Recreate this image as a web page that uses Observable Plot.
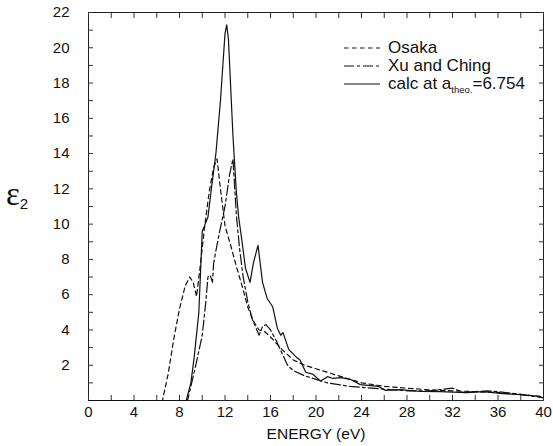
<!DOCTYPE html>
<html><head><meta charset="utf-8">
<script src="https://cdn.jsdelivr.net/npm/d3@7"></script>
<script src="https://cdn.jsdelivr.net/npm/@observablehq/plot@0.6"></script>
<style>
body{margin:0;background:#fff;font-family:"Liberation Sans",Arial,sans-serif;}
#wrap{position:relative;width:553px;height:446px;}
#ylab{position:absolute;left:6px;top:178px;line-height:32px;font-family:"Liberation Serif","DejaVu Serif",serif;font-size:33px;color:#111;white-space:nowrap;}
#ylab sub{font-family:"Liberation Sans",sans-serif;font-size:15px;vertical-align:-4px;margin-left:0px;}
#legend{position:absolute;left:344px;top:39px;font-size:17px;color:#111;}
#legend div{display:flex;align-items:center;height:18px;}
#legend svg{margin-right:8px;}
#legend sub{font-size:9.5px;vertical-align:-4px;}
</style></head>
<body><div id="wrap"><div id="ylab">ε<sub>2</sub></div><div id="legend"></div></div>
<script>
// Osaka (short dashes)
const osakaE = [0,6.5,7.0,7.5,8.0,8.5,8.9,9.2,9.5,9.8,10.2,10.6,11.0,11.3,11.6,12.0,12.5,13.0,13.5,14.0,14.5,15.0,15.5,16.0,17,18,19,20,21,22,23,24,26,28,30,32,34,36,38,40];
const osakaV = [0,0,1.5,3.5,5.2,6.5,7.0,6.7,5.9,7.5,9.8,11.8,13.2,13.7,12.0,9.9,8.8,7.6,6.5,5.3,4.5,4.0,3.9,3.6,2.9,2.3,2.0,1.8,1.6,1.4,1.2,1.0,0.8,0.7,0.6,0.55,0.5,0.45,0.35,0.2];
// Xu and Ching (dash-dot)
const xuE = [0,8.7,9.0,9.5,10.0,10.3,10.5,10.7,10.9,11.0,11.5,12.0,12.4,12.7,13.0,13.3,13.6,14.0,14.4,14.8,15.0,15.3,15.6,16.0,16.5,17,17.5,18,19,20,21,22,23,24,26,28,30,32,33,34,35,36,38,40];
const xuV = [0,0,0.8,2.2,3.7,5.5,7.0,7.1,6.7,7.8,9.5,11.0,12.8,13.7,10.5,8.5,7.0,5.6,4.6,4.0,3.7,4.2,4.3,4.0,3.4,2.7,2.0,1.7,1.4,1.2,1.0,0.9,0.8,0.75,0.65,0.55,0.55,0.7,0.45,0.5,0.55,0.5,0.35,0.15];
// calc at a_theo.=6.754 (solid)
const calcE = [0,8.6,9.0,9.3,9.7,10.0,10.2,10.5,10.8,11.2,11.6,12.0,12.15,12.3,12.7,13.0,13.2,13.5,13.8,14.2,14.5,14.9,15.3,15.7,16.2,16.6,16.9,17.1,17.6,18.2,18.6,19.1,19.7,20.4,21.0,21.5,22.2,23.0,23.9,25.5,26.1,27.4,29.2,30.9,33.3,34.7,36.2,37.7,39.7];
const calcV = [0,0,1.0,2.5,5.0,9.6,9.9,10.4,12.0,14.0,17.0,20.8,21.3,20.5,15.0,11.8,10.4,9.0,7.5,6.7,7.8,8.8,6.7,5.8,5.3,4.1,3.7,3.85,2.9,2.5,2.3,1.6,1.5,1.1,1.35,1.25,1.3,1.2,0.9,0.8,0.57,0.62,0.51,0.5,0.45,0.5,0.4,0.34,0.23];
const seriesNames = ["Osaka","Xu and Ching","calc at a_theo.=6.754"];
const dashes = ["4.5,3.5","10,3,3,3",null];
const xTickLabels = [0,4,8,12,16,20,24,28,32,36,40];
const yTickLabels = [2,4,6,8,10,12,14,16,18,20,22];

const mk = (E,V) => E.map((e,i)=>({e, v:V[i]}));
const osaka = mk(osakaE, osakaV), xu = mk(xuE, xuV), calc = mk(calcE, calcV);
const font = "Liberation Sans, Arial, sans-serif";

const chart = Plot.plot({
  width: 553, height: 446,
  marginLeft: 88, marginRight: 10, marginTop: 12, marginBottom: 46,
  style: {fontFamily: font, fontSize: "15px", color: "#111", background: "white"},
  x: {domain: [0,40], label: null},
  y: {domain: [0,22], label: null},
  marks: [
    Plot.frame({stroke: "#222", strokeWidth: 1}),
    Plot.axisX({anchor: "bottom", ticks: d3.range(0,41,2), tickSize: -5, tickFormat: () => "", stroke: "#333"}),
    Plot.axisX({anchor: "top", ticks: d3.range(0,41,2), tickSize: -5, tickFormat: () => "", stroke: "#333"}),
    Plot.axisX({anchor: "bottom", ticks: xTickLabels, tickSize: 0, tickPadding: 6, fontSize: 15}),
    Plot.axisY({anchor: "left", ticks: d3.range(0,23,1), tickSize: -5, tickFormat: () => "", stroke: "#333"}),
    Plot.axisY({anchor: "right", ticks: d3.range(0,23,1), tickSize: -5, tickFormat: () => "", stroke: "#333"}),
    Plot.axisY({anchor: "left", ticks: yTickLabels, tickSize: 0, tickPadding: 19, fontSize: 15}),
    Plot.text(["ENERGY (eV)"], {frameAnchor: "bottom", dy: 38, fontSize: 15.5, fill: "#111"}),
    Plot.line(osaka, {x: "e", y: "v", stroke: "#111", strokeWidth: 1.2, strokeDasharray: dashes[0]}),
    Plot.line(xu, {x: "e", y: "v", stroke: "#111", strokeWidth: 1.2, strokeDasharray: dashes[1]}),
    Plot.line(calc, {x: "e", y: "v", stroke: "#111", strokeWidth: 1.2})
  ]
});
document.getElementById("wrap").prepend(chart);

const leg = document.getElementById("legend");
seriesNames.forEach((n,i)=>{
  const row = document.createElement("div");
  const label = n.includes("_") ? 'calc at a<sub>theo.</sub>=6.754' : n;
  row.innerHTML = `<svg width="36" height="6"><line x1="0" y1="3" x2="36" y2="3" stroke="#111" stroke-width="1.2" ${dashes[i]?`stroke-dasharray="${dashes[i]}"`:""}/></svg><span>${label}</span>`;
  leg.appendChild(row);
});
</script></body></html>
